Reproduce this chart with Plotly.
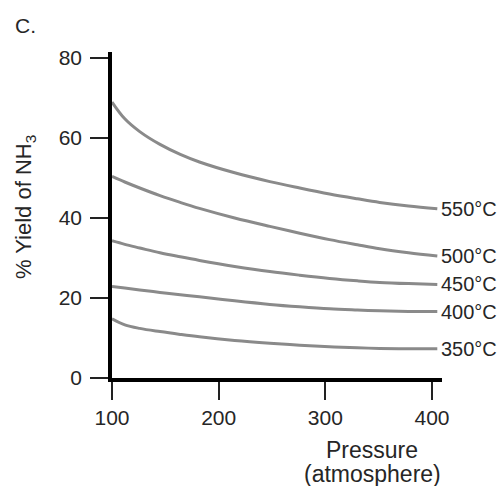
import plotly.graph_objects as go

pressure = [100, 112, 126, 145, 164, 182, 215, 248, 276, 304, 330, 351, 378, 405]
yield_550 = [69.0, 64.8, 61.6, 58.4, 55.9, 54.0, 51.3, 49.1, 47.5, 46.0, 44.8, 43.9, 43.0, 42.3]
yield_500 = [50.4, 49.0, 47.5, 45.6, 43.9, 42.4, 40.0, 37.9, 36.2, 34.6, 33.3, 32.3, 31.3, 30.5]
yield_450 = [34.3, 33.4, 32.5, 31.3, 30.3, 29.4, 27.9, 26.6, 25.7, 24.9, 24.3, 23.9, 23.6, 23.4]
yield_400 = [22.9, 22.5, 22.0, 21.4, 20.8, 20.3, 19.3, 18.4, 17.8, 17.3, 17.0, 16.8, 16.65, 16.6]
yield_350 = [14.8, 13.3, 12.4, 11.6, 10.9, 10.3, 9.4, 8.7, 8.2, 7.8, 7.55, 7.4, 7.3, 7.3]
series_labels = ["550°C", "500°C", "450°C", "400°C", "350°C"]
series_values = [yield_550, yield_500, yield_450, yield_400, yield_350]
x_ticks = [100, 200, 300, 400]
y_ticks = [0, 20, 40, 60, 80]

FONT = "Liberation Sans, Arial, sans-serif"
TEXT = "#262626"
CURVE = "#8a8a8a"

fig = go.Figure()
for name, vals in zip(series_labels, series_values):
    fig.add_trace(go.Scatter(x=pressure, y=vals, mode="lines", name=name,
                             line=dict(color=CURVE, width=3, shape="spline", smoothing=1.0),
                             hoverinfo="skip", cliponaxis=False))

annotations = []
for name, vals in zip(series_labels, series_values):
    annotations.append(dict(x=pressure[-1], y=vals[-1], xref="x", yref="y", text=name,
                            showarrow=False, xanchor="left", yanchor="middle", xshift=2,
                            font=dict(family=FONT, size=20, color=TEXT)))

annotations += [
    dict(x=-0.2636, y=0.5245, xref="paper", yref="paper", text="% Yield of NH<sub>3</sub>",
         textangle=-90, showarrow=False, xanchor="center", yanchor="middle",
         font=dict(family=FONT, size=22, color=TEXT)),
    dict(x=0.788, y=-0.221, xref="paper", yref="paper", text="Pressure",
         showarrow=False, xanchor="center", yanchor="middle",
         font=dict(family=FONT, size=23, color=TEXT)),
    dict(x=0.788, y=-0.295, xref="paper", yref="paper", text="(atmosphere)",
         showarrow=False, xanchor="center", yanchor="middle",
         font=dict(family=FONT, size=23, color=TEXT)),
    dict(x=-0.2636, y=1.08, xref="paper", yref="paper", text="C.",
         showarrow=False, xanchor="center", yanchor="middle",
         font=dict(family=FONT, size=21, color=TEXT)),
]

fig.update_layout(
    width=502, height=486,
    margin=dict(l=112, r=60, t=52, b=108),
    paper_bgcolor="white", plot_bgcolor="white",
    showlegend=False,
    annotations=annotations,
    xaxis=dict(range=[100, 409.4], tickvals=x_ticks, showgrid=False, zeroline=False,
               showline=True, linecolor="black", linewidth=3.5,
               ticks="outside", ticklen=18, tickwidth=1.5, tickcolor="#222",
               tickfont=dict(family=FONT, size=21, color=TEXT)),
    yaxis=dict(range=[0, 81.5], tickvals=y_ticks, showgrid=False, zeroline=False,
               showline=True, linecolor="black", linewidth=3.5,
               ticks="outside", ticklen=18, tickwidth=1.5, tickcolor="#222",
               ticklabelstandoff=4,
               tickfont=dict(family=FONT, size=21, color=TEXT)),
)

fig.write_html("out.html")
